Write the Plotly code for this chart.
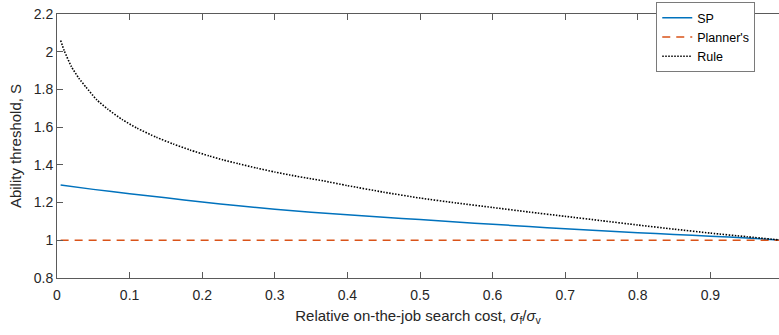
import plotly.graph_objects as go

# Relative on-the-job search cost (sigma_f / sigma_v)
sp_x = [0.005, 0.05, 0.1, 0.15, 0.2, 0.25, 0.3, 0.35, 0.4, 0.45, 0.5,
        0.55, 0.6, 0.65, 0.7, 0.75, 0.8, 0.85, 0.9, 0.95, 1.0]
sp_y = [1.293, 1.270, 1.247, 1.225, 1.203, 1.183, 1.165, 1.149, 1.135, 1.122, 1.110,
        1.097, 1.085, 1.073, 1.061, 1.050, 1.040, 1.031, 1.022, 1.012, 1.0]

planner_x = [0.005, 1.0]
planner_y = [1.0, 1.0]

rule_x = [0.005, 0.01, 0.02, 0.03, 0.04, 0.055, 0.07, 0.09, 0.11, 0.137, 0.16,
          0.183, 0.21, 0.229, 0.25, 0.275, 0.3, 0.321, 0.35, 0.367, 0.4, 0.45,
          0.5, 0.55, 0.6, 0.65, 0.7, 0.75, 0.8, 0.85, 0.9, 0.95, 1.0]
rule_y = [2.06, 2.005, 1.92, 1.86, 1.812, 1.744, 1.695, 1.640, 1.595, 1.546, 1.511,
          1.479, 1.447, 1.426, 1.406, 1.383, 1.362, 1.346, 1.326, 1.315, 1.29, 1.255,
          1.224, 1.198, 1.174, 1.150, 1.127, 1.104, 1.081, 1.059, 1.038, 1.019, 1.0]

x_ticks = [0, 0.1, 0.2, 0.3, 0.4, 0.5, 0.6, 0.7, 0.8, 0.9]
y_ticks = [0.8, 1, 1.2, 1.4, 1.6, 1.8, 2, 2.2]

FONT = "Liberation Sans, Arial, sans-serif"
AXIS = "#5a5a5a"
TEXT = "#262626"

fig = go.Figure()
fig.add_trace(go.Scatter(x=sp_x, y=sp_y, mode="lines", name="SP",
                         line=dict(color="#0072BD", width=1.5, shape="spline", smoothing=0.6)))
fig.add_trace(go.Scatter(x=planner_x, y=planner_y, mode="lines", name="Planner's",
                         line=dict(color="#D95319", width=1.5, dash="8px,6px")))
fig.add_trace(go.Scatter(x=rule_x, y=rule_y, mode="lines", name="Rule",
                         line=dict(color="#000000", width=1.6, dash="1.5px,1.5px",
                                   shape="spline", smoothing=0.6)))

fig.update_layout(
    width=779, height=335,
    margin=dict(l=57, r=0, t=14, b=57),
    paper_bgcolor="white", plot_bgcolor="white",
    font=dict(family=FONT, size=13, color=TEXT),
    showlegend=True,
    legend=dict(x=0.83, y=1.045, xanchor="left", yanchor="top",
                bgcolor="white", bordercolor="#7a7a7a", borderwidth=1,
                font=dict(family=FONT, size=12.5, color="#000"),
                tracegroupgap=0, itemwidth=30),
)
fig.update_xaxes(
    range=[0, 722 / 726], tickvals=x_ticks, ticktext=[f"{v:g}" for v in x_ticks],
    ticks="inside", ticklen=6, tickcolor=AXIS, tickwidth=1,
    showline=True, linecolor=AXIS, linewidth=1, mirror="ticks",
    showgrid=False, zeroline=False, ticklabelstandoff=4,
    tickfont=dict(family=FONT, size=14, color=TEXT),
    title=dict(text="Relative on-the-job search cost, <i>σ</i><sub>f</sub>/<i>σ</i><sub>v</sub>",
               font=dict(family=FONT, size=15, color=TEXT), standoff=8),
)
fig.update_yaxes(
    range=[0.8, 2.2], tickvals=y_ticks, ticktext=[f"{v:g}" for v in y_ticks],
    ticks="inside", ticklen=6, tickcolor=AXIS, tickwidth=1,
    showline=True, linecolor=AXIS, linewidth=1, mirror=False,
    showgrid=False, zeroline=False,
    tickfont=dict(family=FONT, size=14, color=TEXT),
    title=dict(text="Ability threshold, S",
               font=dict(family=FONT, size=15, color=TEXT), standoff=8),
)

fig.write_html("out.html")
